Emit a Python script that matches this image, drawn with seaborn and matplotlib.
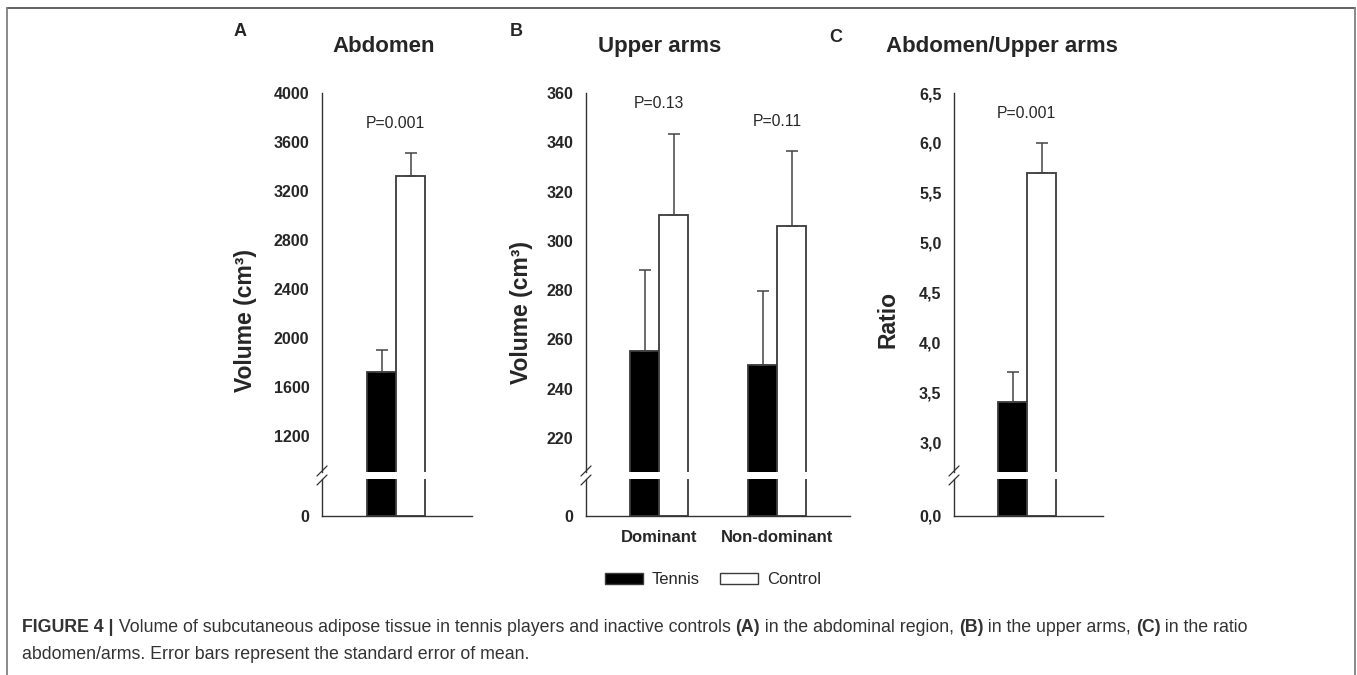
import numpy as np
import pandas as pd
import matplotlib
matplotlib.use("Agg")
import matplotlib.pyplot as plt
import seaborn as sns
from matplotlib.lines import Line2D
from matplotlib.patches import Patch
from matplotlib.ticker import FuncFormatter

# ---------------- data ----------------
groups = ["Tennis", "Control"]
abd_mean = [1720, 3320]
abd_sem = [182, 188]
arm_sites = ["Dominant", "Non-dominant"]
arm_tennis_mean = [255.3, 249.5]
arm_tennis_sem = [32.7, 30.3]
arm_control_mean = [310.3, 306.1]
arm_control_sem = [32.9, 30.3]
ratio_mean = [3.4, 5.7]
ratio_sem = [0.3, 0.3]
p_abd = "P=0.001"
p_arm = ["P=0.13", "P=0.11"]
p_ratio = "P=0.001"
abd_ticks = [1200, 1600, 2000, 2400, 2800, 3200, 3600, 4000]
arm_ticks = [220, 240, 260, 280, 300, 320, 340, 360]
ratio_ticks = [3.0, 3.5, 4.0, 4.5, 5.0, 5.5, 6.0, 6.5]

# ---------------- style ----------------
sns.set_theme(style="white")
plt.rcParams["font.family"] = ["Liberation Sans", "DejaVu Sans"]

W, H = 1357, 675
fig = plt.figure(figsize=(W / 100, H / 100), dpi=100)

SPINE = "#333333"
EDGE = "#3a3a3a"
PAL = {"Tennis": "black", "Control": "white"}
UNIT = 118.0           # px per category unit
BAR_W = 58.0 / UNIT    # group width in category units
Y_TOP, Y_BRK_HI, Y_BRK_LO, Y_ZERO = 93, 472, 479, 516


def box(x0, x1, ytop, ybot):
    return [x0 / W, (H - ybot) / H, (x1 - x0) / W, (ybot - ytop) / H]


def make_panel(x0, x1, center0, df, order, ylim_top, ticks, fmt, zero_lbl,
               sems_sorted):
    ax = fig.add_axes(box(x0, x1, Y_TOP, Y_BRK_HI))
    axb = fig.add_axes(box(x0, x1, Y_BRK_LO, Y_ZERO), sharex=ax)
    for a in (ax, axb):
        sns.barplot(data=df, x="site", y="value", hue="group", order=order,
                    hue_order=groups, palette=PAL, edgecolor=EDGE,
                    linewidth=1.3, width=BAR_W, errorbar=None, legend=False,
                    saturation=1, ax=a)
    xl = ((x0 - center0) / UNIT, (x1 - center0) / UNIT)
    ax.set_xlim(*xl)
    ax.set_ylim(*ylim_top)
    axb.set_ylim(0, 1)
    # error bars (upper only) at the bar positions
    bars = sorted([p for p in ax.patches if p.get_width() > 0],
                  key=lambda p: p.get_x())
    xs = [p.get_x() + p.get_width() / 2 for p in bars]
    ys = [p.get_height() for p in bars]
    ax.errorbar(xs, ys, yerr=[[0] * len(xs), sems_sorted], fmt="none",
                ecolor="#444444", elinewidth=1.1, capsize=4.6, capthick=1.1,
                zorder=1)
    ax.set_yticks(ticks)
    ax.yaxis.set_major_formatter(FuncFormatter(fmt))
    axb.set_yticks([0])
    axb.set_yticklabels([zero_lbl])
    for a in (ax, axb):
        sns.despine(ax=a)
        a.set_xlabel("")
        a.set_ylabel("")
        a.tick_params(axis="y", direction="out", length=5, width=1.0,
                      color=SPINE, labelsize=11.5, pad=4)
        a.tick_params(axis="x", length=0, labelsize=12, pad=10)
        for s in ("left", "bottom"):
            a.spines[s].set_color(SPINE)
            a.spines[s].set_linewidth(1.0)
        for lab in a.get_yticklabels() + a.get_xticklabels():
            lab.set_fontweight("bold")
    ax.spines["bottom"].set_visible(False)
    ax.tick_params(axis="x", labelbottom=False)
    # break marks
    for yc in (471, 480):
        fig.add_artist(Line2D([(x0 - 5) / W, (x0 + 5) / W],
                              [(H - (yc + 5)) / H, (H - (yc - 5)) / H],
                              transform=fig.transFigure, color=SPINE, lw=0.9))
    return ax, axb


# Panel A
df_a = pd.DataFrame({"site": ["Abdomen"] * 2, "group": groups, "value": abd_mean})
axA, axAb = make_panel(322, 472, 396, df_a, ["Abdomen"], (906, 4000),
                       abd_ticks, lambda v, p: f"{v:.0f}", "0", abd_sem)
axAb.set_xticklabels([""])

# Panel B
df_b = pd.DataFrame({
    "site": arm_sites * 2,
    "group": ["Tennis"] * 2 + ["Control"] * 2,
    "value": arm_tennis_mean + arm_control_mean,
})
sems_b = [arm_tennis_sem[0], arm_control_sem[0], arm_tennis_sem[1], arm_control_sem[1]]
axB, axBb = make_panel(586, 850, 659, df_b, arm_sites, (206.2, 360),
                       arm_ticks, lambda v, p: f"{v:.0f}", "0", sems_b)

# Panel C
df_c = pd.DataFrame({"site": ["Ratio"] * 2, "group": groups, "value": ratio_mean})
axC, axCb = make_panel(954, 1103, 1027, df_c, ["Ratio"], (2.70, 6.5),
                       ratio_ticks, lambda v, p: f"{v:.1f}".replace(".", ","), "0,0",
                       ratio_sem)
axCb.set_xticklabels([""])

# axis labels (x coordinate = right edge of the rotated text)
for ax, lbl, xr, yc in ((axA, "Volume (cm³)", 257, 320),
                        (axB, "Volume (cm³)", 533, 312),
                        (axC, "Ratio", 899, 320)):
    ax.set_ylabel(lbl, fontsize=16.5, fontweight="bold")
    ax.yaxis.set_label_coords(xr / W, (H - yc) / H, transform=fig.transFigure)

# P values
def ftext(x, y, s, **kw):
    return fig.text(x / W, (H - y) / H, s, **kw)

ftext(395, 123, p_abd, ha="center", va="center", fontsize=11.3)
ftext(659, 104, p_arm[0], ha="center", va="center", fontsize=11.3)
ftext(777, 122, p_arm[1], ha="center", va="center", fontsize=11.3)
ftext(1026, 113, p_ratio, ha="center", va="center", fontsize=11.3)

# titles and panel letters
ftext(384, 52, "Abdomen", ha="center", va="baseline", fontsize=16, fontweight="bold")
ftext(660, 52, "Upper arms", ha="center", va="baseline", fontsize=16, fontweight="bold")
ftext(1002, 52, "Abdomen/Upper arms", ha="center", va="baseline", fontsize=16, fontweight="bold")
ftext(240, 32, "A", ha="center", va="center", fontsize=13, fontweight="bold")
ftext(516, 32, "B", ha="center", va="center", fontsize=13, fontweight="bold")
ftext(836, 37, "C", ha="center", va="center", fontsize=13, fontweight="bold")

# legend
handles = [Patch(facecolor=PAL[g], edgecolor=EDGE, linewidth=1.0, label=g) for g in groups]
fig.legend(handles=handles, loc="center", bbox_to_anchor=(713 / W, (H - 580) / H),
           ncol=2, frameon=False, fontsize=12, handlelength=2.28, handleheight=0.66,
           handletextpad=0.5, columnspacing=1.25)

# frame
fc = "#808080"
fig.add_artist(Line2D([7 / W, 1355 / W], [(H - 8) / H] * 2, transform=fig.transFigure,
                      color="#555555", lw=1.3))
fig.add_artist(Line2D([7 / W] * 2, [0, (H - 8) / H], transform=fig.transFigure, color=fc, lw=1.3))
fig.add_artist(Line2D([1355 / W] * 2, [0, (H - 8) / H], transform=fig.transFigure, color=fc, lw=1.3))

# caption with mixed weights
renderer = fig.canvas.get_renderer()
CAP = "#333333"


def runs(parts, x, y):
    for s, wgt in parts:
        t = ftext(x, y, s, fontsize=12.75, fontweight=wgt, color=CAP, va="baseline")
        bb = t.get_window_extent(renderer=renderer)
        x += bb.width


runs([("FIGURE 4 |", "bold"),
      (" Volume of subcutaneous adipose tissue in tennis players and inactive controls ", "normal"),
      ("(A)", "bold"), (" in the abdominal region, ", "normal"),
      ("(B)", "bold"), (" in the upper arms, ", "normal"),
      ("(C)", "bold"), (" in the ratio", "normal")], 22, 632)
runs([("abdomen/arms. Error bars represent the standard error of mean.", "normal")], 22, 659)

fig.savefig("out.png", dpi=100)
